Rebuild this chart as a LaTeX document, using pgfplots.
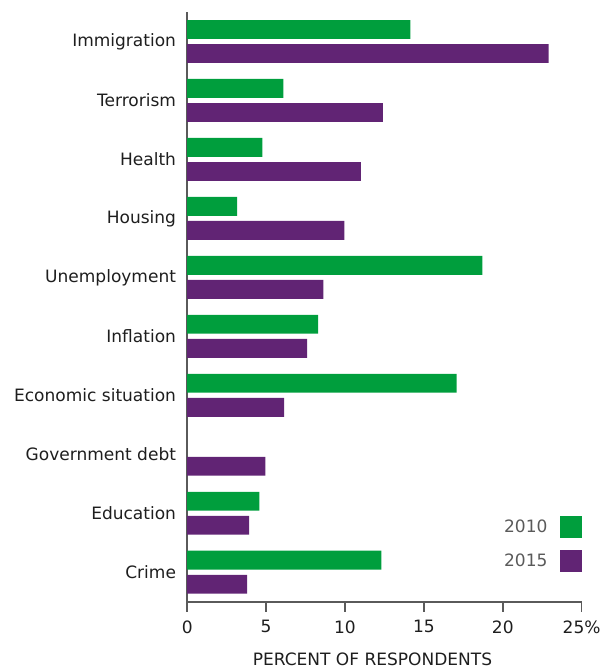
\documentclass[border=0pt]{standalone}
\usepackage{pgfplots}
\pgfplotsset{compat=1.18}
\usepackage{fontspec}
\setmainfont{DejaVu Sans}
\definecolor{cgreen}{RGB}{0,158,61}
\definecolor{cpurple}{RGB}{97,36,116}
\definecolor{axgray}{RGB}{90,90,90}
\definecolor{txt}{RGB}{30,30,30}
\newcommand{\f}{\fontsize{17bp}{20bp}\selectfont}
\begin{document}
\begin{tikzpicture}
\begin{axis}[
  scale only axis,
  width=394bp, height=589bp,
  xbar,
  xmin=0, xmax=25,
  ymin=-0.5, ymax=9.5,
  axis lines*=left,
  axis line style={-, axgray, line width=1.8bp},
  xtick={0,5,10,15,20,25},
  xticklabels={0,5,10,15,20,25\%},
  ytick={0,...,9},
  yticklabels={Crime,Education,Government debt,Economic situation,Inflation,Unemployment,Housing,Health,Terrorism,Immigration},
  tick align=outside,
  major tick length=10bp,
  xtick style={axgray, line width=1.5bp},
  ytick style={draw=none},
  /pgf/number format/assume math mode=true,
  tick label style={font=\f, text=txt},
  yticklabel style={inner sep=0pt, xshift=-1bp},
  xticklabel style={inner sep=0pt, yshift=-8.5bp},
  xlabel={PERCENT OF RESPONDENTS},
  xlabel style={font=\f, text=txt, xshift=-12bp, yshift=-16bp},
  legend plot pos=right,
  legend cell align=right,
  legend style={at={(rel axis cs:1,0)}, anchor=south east, xshift=1bp, yshift=29bp,
    draw=none, fill=none, inner sep=0pt, row sep=12bp, column sep=13bp,
    font=\f, text=axgray, nodes={inner sep=0pt}},
  legend image code/.code={\fill[#1] (0bp,-11bp) rectangle (22bp,11bp);},
]
\addplot[fill=cgreen, draw=none, bar width=0.32, bar shift=0.204] coordinates {
  (12.3,0) (4.57,1) (17.07,3) (8.3,4) (18.7,5) (3.17,6) (4.76,7) (6.1,8) (14.15,9)
};
\addplot[fill=cpurple, draw=none, bar width=0.32, bar shift=-0.204] coordinates {
  (3.8,0) (3.93,1) (4.95,2) (6.15,3) (7.6,4) (8.63,5) (9.96,6) (11.0,7) (12.4,8) (22.9,9)
};
\legend{2010,2015}
\end{axis}
\path ([yshift=12bp]current axis.north);
\path (current axis.south west) ++(-187bp,0);
\path (current axis.south east) ++(19bp,0);
\end{tikzpicture}
\end{document}
